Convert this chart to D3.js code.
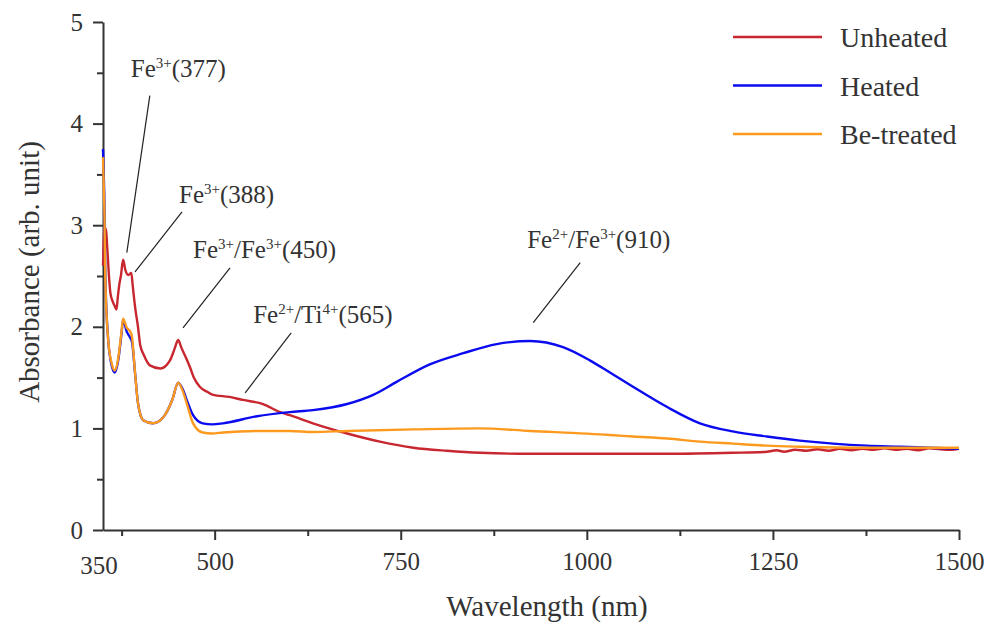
<!DOCTYPE html>
<html>
<head>
<meta charset="utf-8">
<script src="https://d3js.org/d3.v7.min.js"></script>
<style>
  body { margin: 0; background: #fff; }
  .axis path, .axis line { stroke: #333; stroke-width: 2; }
</style>
</head>
<body>
<svg id="chart" width="992" height="623"></svg>
<script>
// wavelength (nm) / absorbance pairs
var unheatedNm = [350, 352, 354, 356, 358, 360, 363, 366, 368, 370, 372, 374, 377, 380, 384, 388, 390, 393, 397, 400, 405, 413, 427, 440, 446, 451, 455, 463, 467, 472, 480, 490, 498, 520, 538, 565, 588, 601, 632, 678, 722, 767, 812, 857, 924, 1031, 1108, 1196, 1242, 1255, 1265, 1280, 1295, 1310, 1325, 1340, 1355, 1370, 1385, 1400, 1415, 1430, 1445, 1460, 1475, 1490, 1500];
var unheatedAbs = [2.60, 2.98, 2.95, 2.75, 2.50, 2.33, 2.25, 2.20, 2.17, 2.30, 2.42, 2.50, 2.66, 2.56, 2.51, 2.53, 2.40, 2.20, 2.00, 1.82, 1.72, 1.62, 1.59, 1.67, 1.78, 1.87, 1.80, 1.67, 1.60, 1.50, 1.41, 1.36, 1.33, 1.31, 1.28, 1.24, 1.16, 1.13, 1.05, 0.95, 0.87, 0.81, 0.78, 0.76, 0.75, 0.75, 0.75, 0.76, 0.77, 0.785, 0.77, 0.79, 0.78, 0.795, 0.78, 0.80, 0.785, 0.80, 0.79, 0.805, 0.79, 0.80, 0.785, 0.805, 0.795, 0.79, 0.80];

var heatedNm = [350, 351, 352, 353, 357, 362, 366, 370, 375, 377, 382, 386, 389, 393, 397, 404, 417, 431, 443, 451, 458, 464, 471, 484, 497, 511, 557, 601, 632, 678, 713, 745, 789, 834, 879, 924, 968, 1004, 1031, 1062, 1108, 1152, 1196, 1242, 1286, 1331, 1376, 1421, 1460, 1500];
var heatedAbs = [3.75, 3.50, 3.18, 2.53, 1.87, 1.61, 1.55, 1.65, 1.94, 2.07, 1.95, 1.90, 1.85, 1.55, 1.25, 1.08, 1.05, 1.11, 1.28, 1.45, 1.37, 1.25, 1.13, 1.05, 1.04, 1.05, 1.12, 1.16, 1.18, 1.24, 1.33, 1.46, 1.63, 1.74, 1.83, 1.86, 1.80, 1.67, 1.55, 1.41, 1.21, 1.05, 0.97, 0.92, 0.88, 0.85, 0.83, 0.82, 0.81, 0.80];

var treatedNm = [350, 351, 352, 353, 357, 362, 366, 370, 375, 377, 382, 386, 389, 393, 397, 404, 417, 431, 443, 451, 458, 464, 471, 484, 497, 511, 557, 601, 632, 678, 767, 856, 924, 1031, 1062, 1108, 1152, 1196, 1242, 1286, 1376, 1500];
var treatedAbs = [3.67, 3.40, 3.10, 2.50, 1.87, 1.63, 1.57, 1.67, 1.96, 2.08, 1.99, 1.96, 1.90, 1.55, 1.25, 1.08, 1.05, 1.11, 1.28, 1.45, 1.35, 1.21, 1.05, 0.96, 0.95, 0.96, 0.975, 0.975, 0.965, 0.975, 0.99, 1.00, 0.975, 0.935, 0.92, 0.90, 0.87, 0.85, 0.83, 0.82, 0.81, 0.81];

var seriesNames = ["Unheated", "Heated", "Be-treated"];
var seriesColors = ["#c8272f", "#0b0bef", "#fb9a1e"];

var xMajor = [500, 750, 1000, 1250, 1500];
var xMinor = [375, 625, 875, 1125, 1375];
var yMajor = [0, 1, 2, 3, 4, 5];
var yMinor = [0.5, 1.5, 2.5, 3.5, 4.5];

// band labels: [text, superscript] pieces, and the point on the curve they mark
var bandLabels = [
  [["Fe", ""], ["3+", "sup"], ["(377)", ""]],
  [["Fe", ""], ["3+", "sup"], ["(388)", ""]],
  [["Fe", ""], ["3+", "sup"], ["/Fe", ""], ["3+", "sup"], ["(450)", ""]],
  [["Fe", ""], ["2+", "sup"], ["/Ti", ""], ["4+", "sup"], ["(565)", ""]],
  [["Fe", ""], ["2+", "sup"], ["/Fe", ""], ["3+", "sup"], ["(910)", ""]]
];
var bandNm = [382, 393, 457.5, 541, 928];
var bandAbs = [2.73, 2.54, 1.99, 1.35, 2.04];

var FONT = "Liberation Serif";
var INK = "#333";

var svg = d3.select("#chart").style("font-family", FONT);
var x = d3.scaleLinear().domain([350, 1500]).range([103, 959]);
var y = d3.scaleLinear().domain([0, 5]).range([530, 22]);
var fmt = d3.format("d");

function label(sel, size) {
  return sel.style("font-family", FONT).style("font-size", size + "px").style("fill", INK);
}

// axes
svg.append("g").attr("class", "axis").attr("transform", "translate(0,530)")
  .call(d3.axisBottom(x).tickValues(xMajor).tickSize(10).tickSizeOuter(0).tickPadding(12).tickFormat(fmt));
svg.append("g").attr("class", "axis").attr("transform", "translate(0,530)")
  .call(d3.axisBottom(x).tickValues(xMinor).tickSize(6).tickFormat("")).select(".domain").remove();
label(svg.append("text").attr("x", x(350) - 4).attr("y", 574).attr("text-anchor", "middle"), 25).text("350");

svg.append("g").attr("class", "axis").attr("transform", "translate(103,0)")
  .call(d3.axisLeft(y).tickValues(yMajor).tickSize(10).tickSizeOuter(0).tickPadding(10).tickFormat(fmt));
svg.append("g").attr("class", "axis").attr("transform", "translate(103,0)")
  .call(d3.axisLeft(y).tickValues(yMinor).tickSize(6).tickFormat("")).select(".domain").remove();
svg.selectAll(".axis").attr("font-family", FONT).attr("font-size", 25);
label(svg.selectAll(".axis text"), 25);

label(svg.append("text").attr("x", 547).attr("y", 616).attr("text-anchor", "middle"), 29)
  .text("Wavelength (nm)");
label(svg.append("text").attr("transform", "translate(39,272) rotate(-90)").attr("text-anchor", "middle"), 29)
  .text("Absorbance (arb. unit)");

// spectra
var line = d3.line().x(function(d) { return x(d[0]); }).y(function(d) { return y(d[1]); })
  .curve(d3.curveMonotoneX);
var series = [
  d3.zip(unheatedNm, unheatedAbs),
  d3.zip(heatedNm, heatedAbs),
  d3.zip(treatedNm, treatedAbs)
];
// draw order: unheated, heated, then be-treated on top
[0, 1, 2].forEach(function(i) {
  svg.append("path").datum(series[i]).attr("fill", "none")
    .attr("stroke", seriesColors[i]).attr("stroke-width", 2.4)
    .attr("stroke-linejoin", "round").attr("d", line);
});

// legend
seriesNames.forEach(function(name, i) {
  var ly = 37 + i * 48.5;
  svg.append("line").attr("x1", 733).attr("x2", 822).attr("y1", ly).attr("y2", ly)
    .attr("stroke", seriesColors[i]).attr("stroke-width", 2.5);
  label(svg.append("text").attr("x", 840).attr("y", ly + 10), 28).text(name);
});

// band annotations
var lineTop = [[23, -157], [47, -60], [47, -60], [46, -60], [47, -60]];
var textOff = [[4, -176], [44, -69], [10, -70], [8, -70], [-6, -75]];
bandLabels.forEach(function(parts, i) {
  var tx = x(bandNm[i]), ty = y(bandAbs[i]);
  svg.append("line").attr("x1", tx).attr("y1", ty)
    .attr("x2", tx + lineTop[i][0]).attr("y2", ty + lineTop[i][1])
    .attr("stroke", "#222").attr("stroke-width", 1.2);
  var t = label(svg.append("text").attr("x", tx + textOff[i][0]).attr("y", ty + textOff[i][1]), 25);
  parts.forEach(function(p, j) {
    var s = t.append("tspan").text(p[0]);
    if (p[1] === "sup") s.style("font-size", "15px").attr("dy", -9);
    else if (j > 0 && parts[j - 1][1] === "sup") s.attr("dy", 9);
  });
});
</script>
</body>
</html>
